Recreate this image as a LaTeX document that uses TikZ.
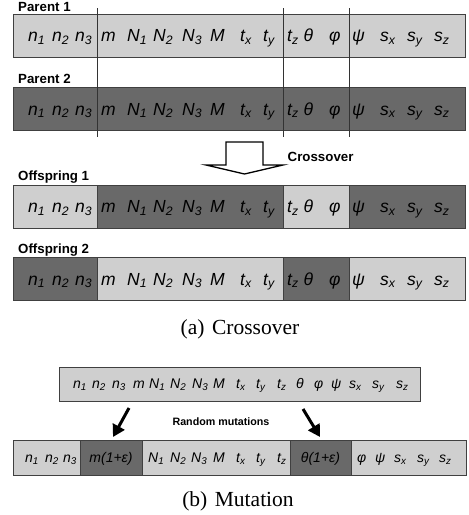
\documentclass[tikz,border=0pt]{standalone}
\usepackage{fontspec}
\setmainfont{Liberation Serif}
\setsansfont{Liberation Sans}
\usetikzlibrary{arrows.meta}

\definecolor{lightgene}{gray}{0.81}
\definecolor{darkgene}{gray}{0.41}

% gene positions (x of left edge / symbol)
\def\crossgenes{28/{n\textsubscript{1}},52/{n\textsubscript{2}},75/{n\textsubscript{3}},101/m,127/{N\textsubscript{1}},153/{N\textsubscript{2}},182/{N\textsubscript{3}},210/M,240/{t\textsubscript{x}},263/{t\textsubscript{y}},287/{t\textsubscript{z}},303.5/θ,329/φ,352/ψ,380/{s\textsubscript{x}},407/{s\textsubscript{y}},434/{s\textsubscript{z}}}
\def\mutgenes{73/{n\textsubscript{1}},92/{n\textsubscript{2}},112/{n\textsubscript{3}},133/m,149/{N\textsubscript{1}},170/{N\textsubscript{2}},192/{N\textsubscript{3}},213/M,236/{t\textsubscript{x}},256/{t\textsubscript{y}},277/{t\textsubscript{z}},296/θ,314/φ,331/ψ,349/{s\textsubscript{x}},372/{s\textsubscript{y}},396/{s\textsubscript{z}}}
\def\newgenes{25/{n\textsubscript{1}},45/{n\textsubscript{2}},63/{n\textsubscript{3}},148/{N\textsubscript{1}},170/{N\textsubscript{2}},191/{N\textsubscript{3}},213/M,236/{t\textsubscript{x}},256/{t\textsubscript{y}},277/{t\textsubscript{z}},357/φ,375/ψ,394/{s\textsubscript{x}},417/{s\textsubscript{y}},439/{s\textsubscript{z}}}

\begin{document}
\begin{tikzpicture}[x=1pt,y=-1pt,
    gene/.style={anchor=base west,inner sep=0pt,font=\sffamily\itshape\fontsize{17.5}{20}\selectfont},
    smallgene/.style={gene,font=\sffamily\itshape\fontsize{14}{16}\selectfont},
    title/.style={anchor=base west,inner sep=0pt,font=\sffamily\bfseries\fontsize{13.3}{15}\selectfont},
    caption/.style={anchor=base,inner sep=0pt,font=\fontsize{21.5}{24}\selectfont},
    light/.style={fill=lightgene,draw=black!75,line width=0.9pt},
    dark/.style={fill=darkgene,draw=black!75,line width=0.9pt},
    cut/.style={draw=black!80,line width=0.8pt},
    mutarrow/.style={line width=3pt,-{Triangle[width=13pt,length=12pt]}}]
      \useasboundingbox (0,0) rectangle (469,515);



      \node[title] (par1) at (18,11) {Parent 1};

      \path[light] (13,14) rectangle (465,57.3);

      \node[title] (par2) at (18,83) {Parent 2};

      \path[dark] (13,87.3) rectangle (465,130.7);

      \foreach \x in {97,283,349}
        \draw[cut] (\x,8) -- (\x,137);



      \draw[line width=1.3pt,fill=white] (226,142) -- (263,142) -- (263,165)
        -- (283,165) -- (244.5,174) -- (206,165) -- (226,165) -- cycle;

      \node[title] (cross) at (287.5,161.7) {Crossover};



      \node[title] (off1) at (18,180) {Offspring 1};

      \path[light] (13,185) rectangle (97,228.3);
      \path[dark] (97,185) rectangle (283,228.3);
      \path[light] (283,185) rectangle (349,228.3);
      \path[dark] (349,185) rectangle (465,228.3);

      \node[title] (off2) at (18,253) {Offspring 2};

      \path[dark] (13,257.3) rectangle (97,300.7);
      \path[light] (97,257.3) rectangle (283,300.7);
      \path[dark] (283,257.3) rectangle (349,300.7);
      \path[light] (349,257.3) rectangle (465,300.7);

      \foreach \y/\r in {41.7/par1g,115/par2g,212.7/off1g,285/off2g}
        \foreach \x/\s [count=\i] in \crossgenes
          \node[gene] (\r\i) at (\x,\y) {\s};

      \node[caption] (capa) at (240,334.5) {(a)\hspace{0.35em}Crossover};



      \path[light] (59,367) rectangle (420,401);

      \foreach \x/\s [count=\i] in \mutgenes
        \node[smallgene] (old\i) at (\x,388.5) {\s};

      \coordinate (la) at (129,408);
      \coordinate (lb) at (113,437);
      \coordinate (ra) at (303,409);
      \coordinate (rb) at (320,437);

      \draw[mutarrow] (la) -- (lb);
      \draw[mutarrow] (ra) -- (rb);

      \node[font=\sffamily\bfseries\fontsize{10.7}{12}\selectfont] (rand) at (221,422)
        {Random mutations};

      \path[light] (13,440) rectangle (80,475);
      \path[dark] (80,440) rectangle (142,475);
      \path[light] (142,440) rectangle (290,475);
      \path[dark] (290,440) rectangle (351,475);
      \path[light] (351,440) rectangle (466,475);

      \foreach \x/\s [count=\i] in \newgenes
        \node[smallgene] (new\i) at (\x,462) {\s};

      \node[smallgene,anchor=base] (newm) at (111,462) {m(1+ε)};

      \node[smallgene,anchor=base] (newt) at (320.5,462) {θ(1+ε)};

      \node[caption] (capb) at (238,506.5) {(b)\hspace{0.35em}Mutation};
    \end{tikzpicture}
\end{document}
